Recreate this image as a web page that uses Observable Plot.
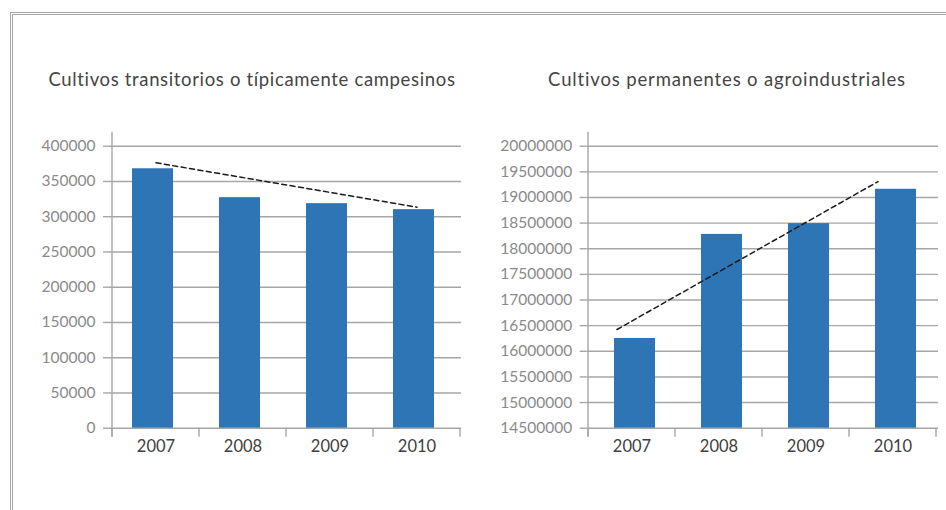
<!DOCTYPE html>
<html><head><meta charset="utf-8">
<script src="https://cdn.jsdelivr.net/npm/d3@7"></script>
<script src="https://cdn.jsdelivr.net/npm/@observablehq/plot@0.6"></script>
<style>
html,body{margin:0;padding:0;background:#fff;overflow:hidden}
#wrap{position:relative;width:946px;height:510px;font-family:Lato,"DejaVu Sans",sans-serif;overflow:hidden}
#frame{position:absolute;left:10px;top:12px;width:960px;height:520px;border-left:3px double #a6a6a6;border-top:3px double #a6a6a6}
.title{position:absolute;top:69px;font-size:18.5px;line-height:20px;letter-spacing:0.65px;color:#454545;white-space:nowrap;transform:translateX(-50%)}
.chart{position:absolute;top:0}
</style></head><body>
<div id="wrap"><div id="frame"></div>
<div class="title" style="left:252px">Cultivos transitorios o típicamente campesinos</div>
<div class="title" style="left:727px;letter-spacing:0.85px">Cultivos permanentes o agroindustriales</div>
<div class="chart" id="c1" style="left:0"></div>
<div class="chart" id="c2" style="left:473px"></div>
</div>
<script>
const years = ["2007", "2008", "2009", "2010"];
const transitorios = [368000, 327000, 318500, 310000];
const permanentes = [16250000, 18280000, 18490000, 19160000];
const trendYears = ["2007", "2010"];
const trendTransitorios = [376500, 313500];
const trendPermanentes = [16425000, 19310000];
const ticksTransitorios = [0, 50000, 100000, 150000, 200000, 250000, 300000, 350000, 400000];
const ticksPermanentes = [14500000, 15000000, 15500000, 16000000, 16500000, 17000000, 17500000, 18000000, 18500000, 19000000, 19500000, 20000000];

const GRID = "#a6a6a6";
function chart({values, trend, ticks, marginLeft, marginRight, trendDx, barDx}) {
  const domain = [ticks[0], ticks[ticks.length - 1]];
  const data = years.map((y, i) => ({year: y, value: values[i]}));
  const tr = trendYears.map((y, i) => ({year: y, value: trend[i]}));
  return Plot.plot({
    width: 473, height: 510,
    marginTop: 145.7, marginBottom: 510 - 427.7, marginLeft, marginRight,
    style: {background: "transparent", fontFamily: "Lato, 'DejaVu Sans', sans-serif", overflow: "visible"},
    x: {type: "band", domain: years, paddingInner: 0, paddingOuter: 0},
    y: {domain},
    marks: [
      Plot.gridY(ticks, {stroke: GRID, strokeOpacity: 1, strokeWidth: 1.4}),
      Plot.axisY(ticks, {tickSize: 7, tickPadding: 8, tickFormat: d => String(d), stroke: GRID, strokeWidth: 1.4, fill: "#8a8a8a", fontSize: 15.5, label: null}),
      Plot.barY(data, {x: "year", y1: domain[0], y2: "value", fill: "#2e75b6", insetLeft: 23, insetRight: 23, dx: barDx}),
      Plot.line(tr, {x: "year", y: "value", stroke: "#1a1a1a", strokeWidth: 1.5, strokeDasharray: "5,3.5", dx: trendDx}),
      Plot.axisX({tickSize: 0, tickPadding: 12, fill: "#404040", fontSize: 16.5, label: null}),
      (index, scales) => {
        const x = scales.x, y = scales.y, bw = x.bandwidth();
        const g = d3.create("svg:g").attr("stroke", GRID).attr("stroke-width", 1.4);
        const xs = years.map(v => x(v)).concat([x(years[years.length - 1]) + bw]);
        const y0 = y(domain[0]);
        g.selectAll("line.t").data(xs).join("line").attr("class", "t")
          .attr("x1", d => d).attr("x2", d => d).attr("y1", y0).attr("y2", y0 + 9);
        g.append("line").attr("x1", xs[0]).attr("x2", xs[0])
          .attr("y1", y(domain[1]) - 14).attr("y2", y0 + 9);
        return g.node();
      }
    ]
  });
}
document.getElementById("c1").append(chart({values: transitorios, trend: trendTransitorios, ticks: ticksTransitorios, marginLeft: 110, marginRight: 12, trendDx: 0, barDx: -3}));
document.getElementById("c2").append(chart({values: permanentes, trend: trendPermanentes, ticks: ticksPermanentes, marginLeft: 113.7, marginRight: 8, trendDx: -15, barDx: 3}));
</script>
</body></html>
